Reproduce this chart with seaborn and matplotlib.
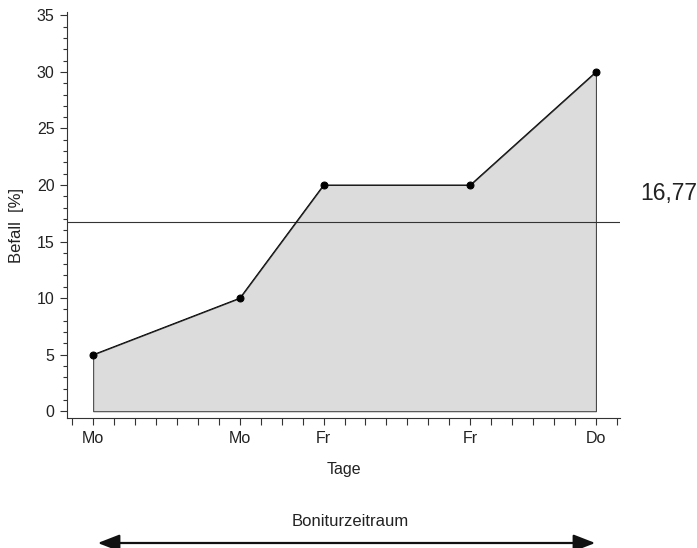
import numpy as np
import matplotlib
matplotlib.use("Agg")
import matplotlib.pyplot as plt
import matplotlib.transforms as mtransforms
from matplotlib.ticker import MultipleLocator
import seaborn as sns

# ── Data ─────────────────────────────────────────────────────────────────────
days = [0, 7, 11, 18, 24]
befall = [5, 10, 20, 20, 30]
day_labels = ["Mo", "Mo", "Fr", "Fr", "Do"]
x_ticks = list(range(-1, 26))

# time-weighted mean (area under curve / duration)
mean_val = np.trapezoid(befall, days) / (days[-1] - days[0])

sns.set_style("ticks")
plt.rcParams["font.family"] = ["Liberation Sans", "DejaVu Sans"]

TXT = "#222222"
EDGE = "#333333"
FILL = "#dcdcdc"

fig = plt.figure(figsize=(6.97, 5.48), dpi=100, facecolor="white")
ax = fig.add_axes([0.0961, 0.2372, 0.7934, 0.741])

ax.fill_between(days, befall, color=FILL, edgecolor=EDGE, linewidth=0.7, zorder=1)
sns.lineplot(x=days, y=befall, ax=ax, color="black", linewidth=0.7,
             marker="o", markersize=5, markeredgecolor="black", zorder=3)
ax.axhline(mean_val, color=EDGE, linewidth=0.8, zorder=2)

trans = mtransforms.blended_transform_factory(ax.transAxes, ax.transData)
ax.text(1.036, mean_val + 2.5, f"{mean_val:.2f}".replace(".", ","),
        transform=trans, ha="left", va="center", fontsize=16.5, color=TXT)

ax.set_xlim(-1.25, 25.15)
ax.set_ylim(-0.6, 35.3)
ax.set_xticks(x_ticks)
ax.set_xticklabels([day_labels[days.index(t)] if t in days else "" for t in x_ticks])
ax.yaxis.set_major_locator(MultipleLocator(5))
ax.yaxis.set_minor_locator(MultipleLocator(1))
ax.tick_params(axis="both", which="major", length=5, width=0.8, colors=EDGE,
               labelcolor=TXT, labelsize=11.5, pad=4)
ax.tick_params(axis="y", which="minor", length=3, width=0.8, colors=EDGE)

ax.set_xlabel("Tage", fontsize=11.5, color=TXT, labelpad=12)
ax.set_ylabel("Befall  [%]", fontsize=12, color=TXT)
ax.yaxis.set_label_coords(-0.078, 0.475)

sns.despine(ax=ax)
for s in ["left", "bottom"]:
    ax.spines[s].set_color(EDGE)
    ax.spines[s].set_linewidth(0.8)

# period arrow below the chart
fig.text(350 / 697, 1 - 521 / 548, "Boniturzeitraum", ha="center", va="center",
         fontsize=12, color=TXT)
fig.add_artist(matplotlib.patches.FancyArrowPatch(
    (95 / 697, 1 - 543 / 548), (598 / 697, 1 - 543 / 548),
    transform=fig.transFigure, arrowstyle="<|-|>,head_length=0.95,head_width=0.37",
    mutation_scale=14, color="#111111", linewidth=1.6))

plt.savefig("out.png", dpi=100, facecolor="white")
plt.close()
